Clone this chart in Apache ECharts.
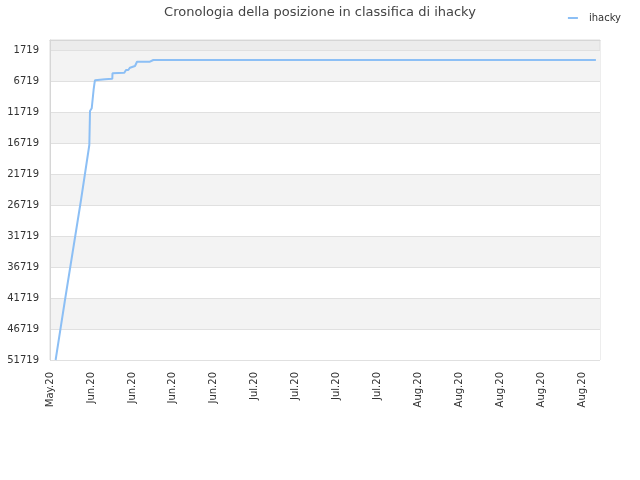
<!DOCTYPE html>
<html>
<head>
<meta charset="utf-8">
<script src="https://cdn.jsdelivr.net/npm/echarts@6/dist/echarts.min.js"></script>
<style>html,body{margin:0;padding:0;background:#fff}#c{width:640px;height:480px}</style>
</head>
<body>
<div id="c"></div>
<script>
// Days since 30 May 2020 (fractional) and rank values
var dayValues = [0.96, 2.56, 3.93, 5.30, 6.72, 6.84, 7.13, 7.40, 7.45, 7.60, 7.69, 7.75, 9.40, 9.45, 10.65, 10.68, 12.70, 12.99, 13.38, 13.67, 14.01, 14.53, 14.82, 14.87, 17.09, 17.66, 93.3];
var rankValues = [51719, 42020, 33940, 25860, 16970, 11475, 11040, 10900, 8080, 7000, 6500, 6350, 6350, 6255, 6255, 5380, 5300, 4850, 4850, 4480, 4200, 4200, 3880, 3510, 3510, 3232, 3232];
var xTickLabels = ["May.20", "Jun.20", "Jun.20", "Jun.20", "Jun.20", "Jul.20", "Jul.20", "Jul.20", "Jul.20", "Aug.20", "Aug.20", "Aug.20", "Aug.20", "Aug.20"];
var yTickValues = [1719, 6719, 11719, 16719, 21719, 26719, 31719, 36719, 41719, 46719, 51719];
var seriesName = "ihacky";
var titleText = "Cronologia della posizione in classifica di ihacky";

var points = dayValues.map(function (d, i) { return [d, rankValues[i]]; });
var font = "DejaVu Sans";
var chart = echarts.init(document.getElementById('c'), null, {renderer: 'canvas'});
chart.setOption({
  animation: false,
  backgroundColor: '#ffffff',
  title: {
    text: titleText, left: 'center', top: 1,
    textStyle: {fontFamily: font, fontSize: 13, fontWeight: 'normal', color: '#444'}
  },
  legend: {
    data: [seriesName], right: 14, top: 8, icon: 'rect', itemWidth: 10, itemHeight: 2,
    textStyle: {fontFamily: font, fontSize: 10, color: '#333', padding: [0, 0, 0, 6]}
  },
  grid: {
    left: 50, right: 40, top: 40, bottom: 120, show: true,
    backgroundColor: '#ececec', borderColor: '#dcdcdc', borderWidth: 1, containLabel: false
  },
  xAxis: {
    type: 'value', min: 0, max: 94, interval: 7,
    axisLine: {show: true, lineStyle: {color: '#d6d6d6'}},
    axisTick: {show: false},
    splitLine: {show: false},
    axisLabel: {
      rotate: 90, margin: 12, fontFamily: font, fontSize: 10, color: '#333',
      showMaxLabel: false,
      formatter: function (v) { var k = Math.round(v / 7); return (v % 7 === 0 && xTickLabels[k]) ? xTickLabels[k] : ''; }
    }
  },
  yAxis: {
    type: 'value', inverse: true, min: 0, max: 51719,
    axisLine: {show: true, lineStyle: {color: '#d6d6d6'}},
    axisTick: {show: false, customValues: yTickValues},
    axisLabel: {
      customValues: yTickValues, margin: 11, fontFamily: font, fontSize: 10, color: '#333',
      formatter: function (v) { return String(v); }
    },
    splitLine: {show: true, lineStyle: {color: '#e0e0e0', width: 1}},
    splitArea: {show: true, areaStyle: {color: ['#f3f3f3', '#ffffff']}}
  },
  series: [{
    name: seriesName, type: 'line', data: points, showSymbol: false, symbol: 'none',
    lineStyle: {color: '#8cbff5', width: 2}, itemStyle: {color: '#8cbff5'}
  }]
});
</script>
</body>
</html>
